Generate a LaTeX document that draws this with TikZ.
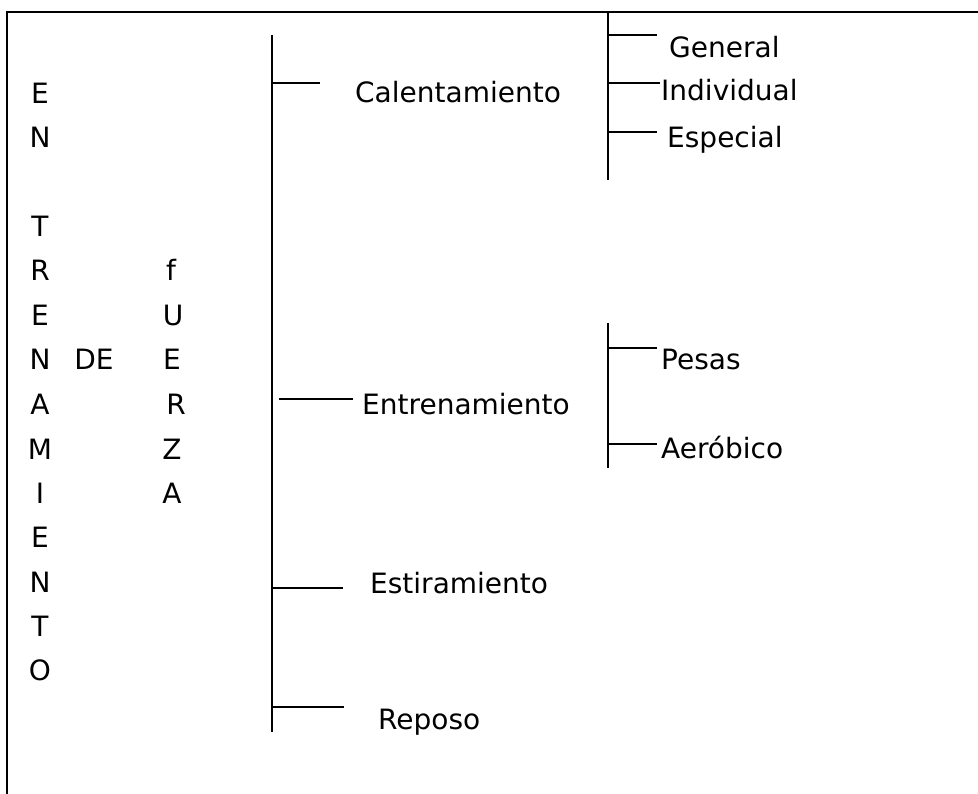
\documentclass[tikz,border=0pt]{standalone}
\usepackage{fontspec}
\setmainfont{DejaVu Sans}
\usetikzlibrary{positioning}

\begin{document}
\begin{tikzpicture}[x=1pt, y=-1pt,
    frame/.style={line width=1.8pt},
    bar/.style={line width=1.8pt},
    tick/.style={line width=1.3pt},
    item/.style={anchor=base west, inner sep=0pt, font=\fontsize{28}{32}\selectfont},
    letter/.style={anchor=base, inner sep=0pt, font=\fontsize{28}{32}\selectfont}]
      \useasboundingbox (0,0) rectangle (978,794);
      \draw[frame] (7,794) -- (7,12) -- (978,12);

      % vertical title
      \foreach \l/\y [count=\i] in {E/104, N/148, T/237, R/281, E/326, N/370, A/414, M/459, I/503, E/547, N/592, T/636, O/680}
        \node[letter] (ent\i) at (40,\y) {\l};
      \node[letter] (de) at (94,370) {DE};
      \foreach \l/\x/\y [count=\i] in {f/171/281, U/173/326, E/172/370, R/176/414, Z/172/459, A/172/503}
        \node[letter] (fue\i) at (\x,\y) {\l};

      % main branches
      \coordinate (bartop) at (272,35);
      \coordinate (barbot) at (272,732);
      \draw[bar] (bartop) -- (barbot);

      \node[item] (cal) at (355,103) {Calentamiento};
      \node[item] (ent) at (362,415) {Entrenamiento};
      \node[item] (est) at (370,593) {Estiramiento};
      \node[item] (rep) at (378,729) {Reposo};

      \coordinate (c1) at (272,83);  \coordinate (c1e) at (320,83);
      \coordinate (c2) at (279,399); \coordinate (c2e) at (353,399);
      \coordinate (c3) at (272,588); \coordinate (c3e) at (343,588);
      \coordinate (c4) at (272,707); \coordinate (c4e) at (344,707);
      \draw[tick] (c1) -- (c1e);
      \draw[tick] (c2) -- (c2e);
      \draw[tick] (c3) -- (c3e);
      \draw[tick] (c4) -- (c4e);

      % calentamiento
      \coordinate (caltop) at (608,12);
      \coordinate (calbot) at (608,180);
      \draw[bar] (caltop) -- (calbot);
      \node[item] (gen) at (669,58) {General};
      \node[item] (ind) at (661,101) {Individual};
      \node[item] (esp) at (667,148) {Especial};
      \coordinate (g1) at (608,35);  \coordinate (g1e) at (657,35);
      \coordinate (g2) at (608,83);  \coordinate (g2e) at (660,83);
      \coordinate (g3) at (608,132); \coordinate (g3e) at (657,132);
      \draw[tick] (g1) -- (g1e);
      \draw[tick] (g2) -- (g2e);
      \draw[tick] (g3) -- (g3e);

      % entrenamiento
      \coordinate (enttop) at (608,323);
      \coordinate (entbot) at (608,468);
      \draw[bar] (enttop) -- (entbot);
      \node[item] (pes) at (661,370) {Pesas};
      \node[item] (aer) at (661,458) {Aeróbico};
      \coordinate (p1) at (608,348); \coordinate (p1e) at (657,348);
      \coordinate (p2) at (608,444); \coordinate (p2e) at (657,444);
      \draw[tick] (p1) -- (p1e);
      \draw[tick] (p2) -- (p2e);
    \end{tikzpicture}
\end{document}
